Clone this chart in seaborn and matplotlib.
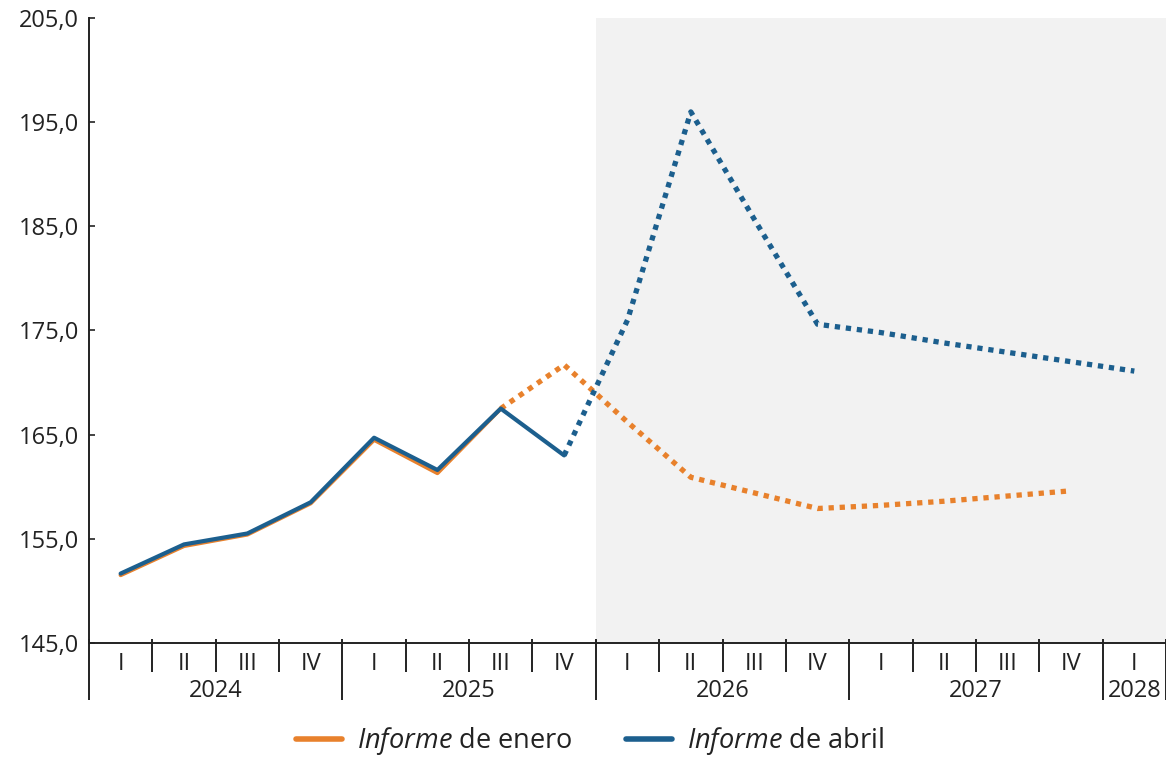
import matplotlib
matplotlib.use("Agg")
import matplotlib.pyplot as plt
import seaborn as sns
import numpy as np
import pandas as pd
from matplotlib.lines import Line2D
from matplotlib.ticker import FuncFormatter

# ---------------- data ----------------
quarters = ["I", "II", "III", "IV", "I", "II", "III", "IV",
            "I", "II", "III", "IV", "I", "II", "III", "IV", "I"]
years = [2024] * 4 + [2025] * 4 + [2026] * 4 + [2027] * 4 + [2028]
enero = [151.5, 154.3, 155.4, 158.4, 164.5, 161.3, 167.5, 171.7,
         166.2, 160.9, 159.4, 157.9, 158.2, 158.6, 159.1, 159.6, np.nan]
abril = [151.65, 154.45, 155.5, 158.5, 164.7, 161.6, 167.5, 163.0,
         176.0, 196.0, 185.7, 175.6, 174.8, 173.8, 172.9, 172.0, 171.1]
enero_last_observed = 6   # index of 2025 III
abril_last_observed = 7   # index of 2025 IV
forecast_start_year = 2026
yticks = [145, 155, 165, 175, 185, 195, 205]
legend_labels = [r"$\mathit{Informe}$ de enero", r"$\mathit{Informe}$ de abril"]

orange = "#E8812C"
blue = "#1C5F8E"
shade = "#F2F2F2"
txt = "#222222"

# ---------------- style ----------------
sns.set_theme(style="white")
plt.rcParams["font.family"] = ["Open Sans", "DejaVu Sans"]
plt.rcParams["mathtext.fontset"] = "custom"
plt.rcParams["mathtext.it"] = "Open Sans:italic"
plt.rcParams["mathtext.rm"] = "Open Sans"

fig = plt.figure(figsize=(11.66, 7.58), dpi=100)
ax = fig.add_axes([0.0763, 0.152, 0.9237, 0.824])

n = len(quarters)
x = np.arange(n)
df = pd.DataFrame({"x": x, "enero": enero, "abril": abril})

# forecast shading
first_fc = years.index(forecast_start_year)
ax.axvspan(first_fc - 0.5, n - 0.5, color=shade, zorder=0, lw=0)

def draw(series, last_obs, color):
    solid = df.iloc[: last_obs + 1]
    dotted = df.iloc[last_obs:].dropna(subset=[series])
    sns.lineplot(data=solid, x="x", y=series, ax=ax, color=color, lw=3.0,
                 solid_capstyle="round", solid_joinstyle="round", zorder=3)
    sns.lineplot(data=dotted, x="x", y=series, ax=ax, color=color, lw=3.8,
                 linestyle=(0, (1.0, 1.1)), dash_capstyle="butt", zorder=3)

draw("enero", enero_last_observed, orange)
draw("abril", abril_last_observed, blue)

ax.set_xlim(-0.5, n - 0.5)
ax.set_ylim(yticks[0], yticks[-1])
ax.set_yticks(yticks)
ax.yaxis.set_major_formatter(FuncFormatter(lambda v, p: f"{v:.1f}".replace(".", ",")))
ax.tick_params(axis="y", direction="in", length=4, width=1.2, color=txt,
               labelsize=17, labelcolor=txt, pad=7, left=True)
ax.set_xticks([])
ax.set_xlabel("")
ax.set_ylabel("")

for s in ["top", "right"]:
    ax.spines[s].set_visible(False)
for s in ["left", "bottom"]:
    ax.spines[s].set_color(txt)
    ax.spines[s].set_linewidth(1.4)
    ax.spines[s].set_zorder(5)

# custom categorical x axis
tr = ax.get_xaxis_transform()
ax_h_px = 0.824 * 758
def px(v):
    return v / ax_h_px

boundaries = np.arange(n + 1) - 0.5
year_bounds = [0] + [i for i in range(1, n) if years[i] != years[i - 1]] + [n]
for b in boundaries:
    idx = int(b + 0.5)
    is_year = idx in year_bounds
    ax.vlines(b, px(-57 if is_year else -29), px(4), transform=tr, color=txt,
              lw=1.4, clip_on=False, zorder=6)

for i, q in enumerate(quarters):
    ax.text(i, px(-21), q, transform=tr, ha="center", va="center",
            fontsize=17, color=txt)

for a, b in zip(year_bounds[:-1], year_bounds[1:]):
    ax.text((a + b - 1) / 2, px(-48), str(years[a]), transform=tr,
            ha="center", va="center", fontsize=17, color=txt)

handles = [Line2D([], [], color=orange, lw=4), Line2D([], [], color=blue, lw=4)]
fig.legend(handles, legend_labels, loc="center", bbox_to_anchor=(0.506, 0.022),
           ncol=2, frameon=False, fontsize=19.5, handlelength=1.7,
           handletextpad=0.55, columnspacing=2.0, labelcolor=txt)

fig.savefig("out.png", dpi=100)
